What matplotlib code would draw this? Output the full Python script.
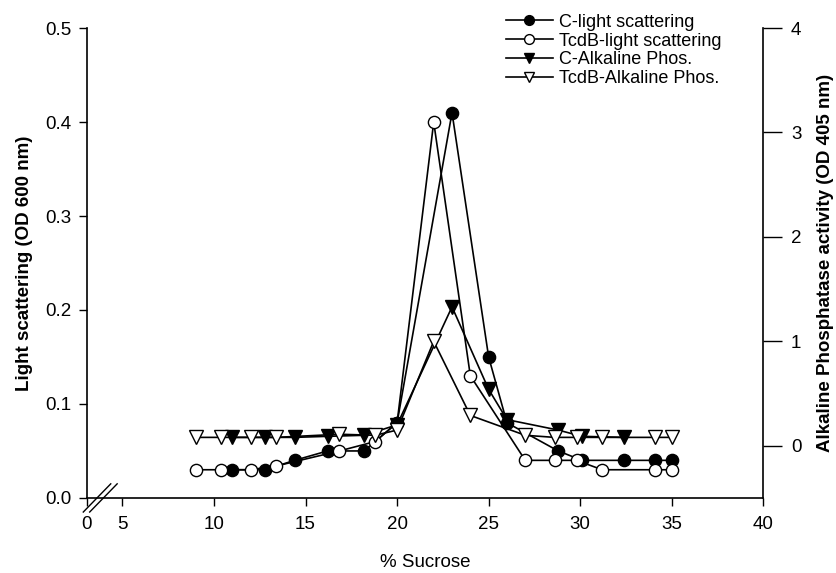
import matplotlib
matplotlib.use("Agg")
import matplotlib.pyplot as plt
from matplotlib.lines import Line2D

plt.rcParams['font.family'] = ['Liberation Sans', 'DejaVu Sans']

# Data
c_ls_x = [11, 12.8, 14.4, 16.2, 18.2, 20, 23, 25, 26, 28.8, 30.1, 32.4, 34.1, 35]
c_ls_y = [0.03, 0.03, 0.04, 0.05, 0.05, 0.08, 0.41, 0.15, 0.08, 0.05, 0.04, 0.04, 0.04, 0.04]

t_ls_x = [9, 10.4, 12, 13.4, 16.85, 18.8, 20, 22, 24, 27, 28.6, 29.8, 31.2, 34.1, 35]
t_ls_y = [0.03, 0.03, 0.03, 0.034, 0.05, 0.06, 0.08, 0.40, 0.13, 0.04, 0.04, 0.04, 0.03, 0.03, 0.03]

c_ap_x = [11, 12.8, 14.4, 16.2, 18.2, 20, 23, 25, 26, 28.8, 30.1, 32.4]
c_ap_y = [0.08, 0.08, 0.08, 0.09, 0.10, 0.20, 1.33, 0.54, 0.25, 0.15, 0.09, 0.08]

t_ap_x = [9, 10.4, 12, 13.4, 16.85, 18.8, 20, 22, 24, 27, 28.6, 29.8, 31.2, 34.1, 35]
t_ap_y = [0.08, 0.08, 0.08, 0.08, 0.11, 0.10, 0.15, 1.00, 0.29, 0.10, 0.08, 0.08, 0.08, 0.08, 0.08]

x_ticks = [5, 10, 15, 20, 25, 30, 35, 40]
x_labels = ['5', '10', '15', '20', '25', '30', '35', '40']
left_ticks = [0.0, 0.1, 0.2, 0.3, 0.4, 0.5]
right_ticks = [0, 1, 2, 3, 4]

X0 = 3.06  # position where the broken axis shows "0"

fig = plt.figure(figsize=(8.36, 5.73), dpi=100)
ax = fig.add_axes([0.104, 0.131, 0.809, 0.820])
ax2 = ax.twinx()

ms = 8.8
lw = 1.2
l1, = ax.plot(c_ls_x, c_ls_y, color='black', lw=lw, marker='o', ms=ms,
              mfc='black', mec='black', label='C-light scattering', zorder=4)
l2, = ax.plot(t_ls_x, t_ls_y, color='black', lw=lw, marker='o', ms=ms,
              mfc='white', mec='black', label='TcdB-light scattering', zorder=4)
l3, = ax2.plot(c_ap_x, c_ap_y, color='black', lw=lw, marker='v', ms=ms + 1,
               mfc='black', mec='black', label='C-Alkaline Phos.', zorder=3)
l4, = ax2.plot(t_ap_x, t_ap_y, color='black', lw=lw, marker='v', ms=ms + 1,
               mfc='white', mec='black', label='TcdB-Alkaline Phos.', zorder=3)

ax.set_xlim(X0, 40)
ax.set_ylim(0, 0.5)
ax2.set_ylim(-0.5, 4)

ax.set_xticks([X0] + x_ticks)
ax.set_xticklabels(['0'] + x_labels)
ax.set_yticks(left_ticks)
ax.set_yticklabels(['%.1f' % v for v in left_ticks])
ax2.set_yticks(right_ticks)

for a in (ax, ax2):
    a.spines['top'].set_visible(False)
ax.spines['right'].set_visible(False)
ax2.spines['left'].set_visible(False)
ax2.spines['bottom'].set_visible(False)
for s in ('left', 'bottom'):
    ax.spines[s].set_linewidth(1.2)
ax2.spines['right'].set_linewidth(1.2)

ax.tick_params(axis='both', direction='out', length=6, width=1, labelsize=13.5)
ax.tick_params(axis='x', pad=7)
ax.tick_params(axis='y', pad=5)
ax2.tick_params(axis='y', direction='out', length=14, width=1, labelsize=13.5, pad=6)

ax.set_xlabel('% Sucrose', fontsize=13.5, labelpad=15)
ax.set_ylabel('Light scattering (OD 600 nm)', fontsize=13.5, fontweight='bold', labelpad=9)
ax2.set_ylabel('Alkaline Phosphatase activity (OD 405 nm)', fontsize=13.5,
               fontweight='bold', labelpad=11)

# axis break marks
trans = ax.get_xaxis_transform()
for dx in (0.0, 0.35):
    ax.add_line(Line2D([X0 - 0.2 + dx, X0 + 1.3 + dx], [-0.03, 0.03],
                       transform=trans, color='black', lw=1, clip_on=False))

leg = fig.legend(handles=[l1, l2, l3, l4], loc='upper left',
                 bbox_to_anchor=(0.592, 0.995), frameon=False, fontsize=13,
                 handlelength=2.6, handletextpad=0.35, labelspacing=0.1,
                 borderaxespad=0.2, markerscale=0.8)

fig.savefig('out.png', dpi=100)
